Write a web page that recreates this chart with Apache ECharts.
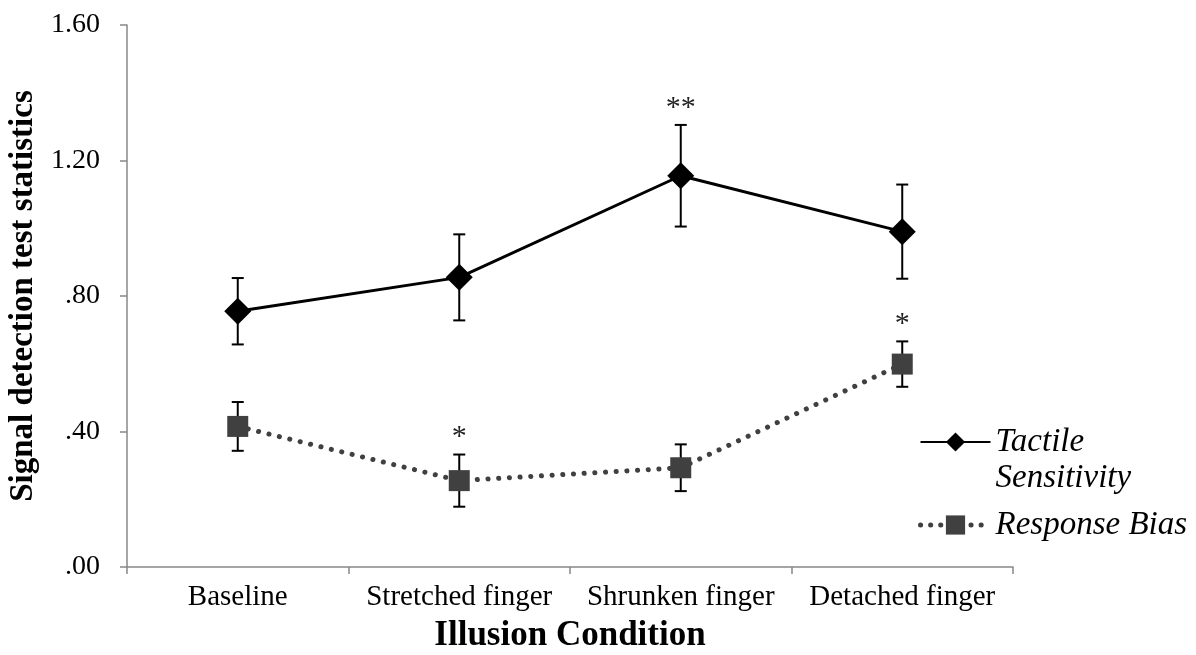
<!DOCTYPE html>
<html>
<head>
<meta charset="utf-8">
<script src="https://cdn.jsdelivr.net/npm/echarts@6/dist/echarts.min.js"></script>
<style>
html,body{margin:0;padding:0;background:#fff;}
#chart{width:1196px;height:655px;}
</style>
</head>
<body>
<div id="chart"></div>
<script>
const categories = ['Baseline', 'Stretched finger', 'Shrunken finger', 'Detached finger'];
const tactileMean = [0.755, 0.855, 1.155, 0.99];
const tactileErr = [0.098, 0.127, 0.150, 0.139];
const biasMean = [0.415, 0.255, 0.293, 0.599];
const biasErr = [0.072, 0.077, 0.069, 0.067];
const tactileSig = ['', '', '**', ''];
const biasSig = ['', '*', '', '*'];
const yTickLabels = ['.00', '.40', '.80', '1.20', '1.60'];
const seriesNames = ['Tactile Sensitivity', 'Response Bias'];

const FONT = '"Liberation Serif", "Times New Roman", serif';

function errData(mean, err, sig) {
  return mean.map((m, i) => [i, m - err[i], m + err[i], sig[i]]);
}

function renderErr(params, api) {
  const i = api.value(0);
  const lo = api.coord([i, api.value(1)]);
  const hi = api.coord([i, api.value(2)]);
  const cap = 6;
  const style = { stroke: '#000', lineWidth: 2 };
  const children = [
    { type: 'line', shape: { x1: lo[0], y1: lo[1], x2: hi[0], y2: hi[1] }, style },
    { type: 'line', shape: { x1: lo[0] - cap, y1: lo[1], x2: lo[0] + cap, y2: lo[1] }, style },
    { type: 'line', shape: { x1: hi[0] - cap, y1: hi[1], x2: hi[0] + cap, y2: hi[1] }, style }
  ];
  const sig = api.value(3);
  if (sig) {
    children.push({
      type: 'text',
      style: {
        text: sig, x: hi[0], y: hi[1] - 2,
        align: 'center', verticalAlign: 'bottom',
        font: '30px ' + FONT, fill: '#222'
      }
    });
  }
  return { type: 'group', children };
}

const chart = echarts.init(document.getElementById('chart'));
chart.setOption({
  animation: false,
  backgroundColor: '#fff',
  grid: { left: 127, right: 183, top: 25, bottom: 88, containLabel: false, outerBoundsMode: 'none' },
  legend: {
    data: [
      { name: seriesNames[0] },
      { name: seriesNames[1], lineStyle: { width: 5, type: [0.1, 10], cap: 'round', color: '#404040' } }
    ],
    orient: 'vertical',
    left: 918,
    top: 388,
    padding: 0,
    itemGap: 11,
    itemWidth: 70,
    itemHeight: 24,
    formatter: n => n === 'Tactile Sensitivity' ? '\nTactile\nSensitivity' : n,
    textStyle: { fontFamily: FONT, fontStyle: 'italic', fontSize: 33, lineHeight: 36, color: '#000' }
  },
  xAxis: {
    type: 'category',
    data: categories,
    boundaryGap: true,
    name: 'Illusion Condition',
    nameLocation: 'middle',
    nameGap: 51,
    nameTextStyle: { fontFamily: FONT, fontWeight: 'bold', fontSize: 35, color: '#000' },
    axisLine: { lineStyle: { color: '#888', width: 1.5 } },
    axisTick: { show: true, length: 7, lineStyle: { color: '#888', width: 1.5 } },
    axisLabel: { fontFamily: FONT, fontSize: 29, color: '#000', margin: 16, interval: 0 }
  },
  yAxis: {
    type: 'value',
    min: 0, max: 1.6, interval: 0.4,
    name: 'Signal detection test statistics',
    nameLocation: 'middle',
    nameGap: 87,
    nameRotate: 90,
    nameTextStyle: { fontFamily: FONT, fontWeight: 'bold', fontSize: 33, color: '#000' },
    axisLine: { show: true, lineStyle: { color: '#888', width: 1.5 } },
    axisTick: { show: true, length: 7, lineStyle: { color: '#888', width: 1.5 } },
    splitLine: { show: false },
    axisLabel: {
      fontFamily: FONT, fontSize: 28, color: '#000', margin: 27,
      formatter: (v, idx) => yTickLabels[idx]
    }
  },
  series: [
    {
      name: 'Tactile Sensitivity-err', type: 'custom', z: 1,
      renderItem: renderErr,
      data: errData(tactileMean, tactileErr, tactileSig),
      encode: { x: 0, y: [1, 2] }, silent: true
    },
    {
      name: 'Response Bias-err', type: 'custom', z: 1,
      renderItem: renderErr,
      data: errData(biasMean, biasErr, biasSig),
      encode: { x: 0, y: [1, 2] }, silent: true
    },
    {
      name: seriesNames[0], type: 'line', z: 3,
      data: tactileMean,
      symbol: 'diamond', symbolSize: 27,
      itemStyle: { color: '#000' },
      lineStyle: { color: '#000', width: 3 }
    },
    {
      name: seriesNames[1], type: 'line', z: 2,
      data: biasMean,
      symbol: 'rect', symbolSize: 21,
      itemStyle: { color: '#404040' },
      lineStyle: { color: '#404040', width: 5, type: [0.1, 10.6], cap: 'round' }
    }
  ]
});
</script>
</body>
</html>
